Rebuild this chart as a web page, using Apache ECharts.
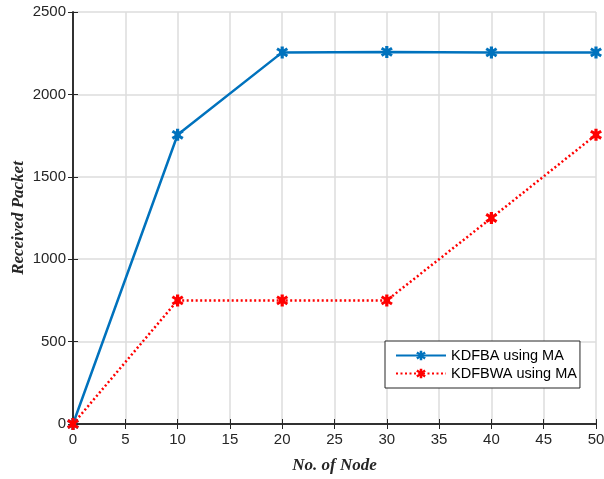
<!DOCTYPE html>
<html><head><meta charset="utf-8">
<script src="https://cdn.jsdelivr.net/npm/echarts@6/dist/echarts.min.js"></script>
<style>html,body{margin:0;padding:0;background:#fff}#c{width:604px;height:479px}</style>
</head><body><div id="c"></div>
<script>
const nodes = [0, 10, 20, 30, 40, 50];
const kdfba = [0, 1755, 2255, 2258, 2255, 2255];
const kdfbwa = [0, 750, 750, 750, 1250, 1755];
const seriesNames = ['KDFBA using MA', 'KDFBWA using MA'];
const xName = 'No. of Node';
const yName = 'Received Packet';

const axisColor = '#262626';
const star = 'path://M-1.6,-6L1.6,-6L1.6,-3.2L4.4,-4.9L6,-2.3L3.2,-0.8L3.2,0.8L6,2.3L4.4,4.9L1.6,3.2L1.6,6L-1.6,6L-1.6,3.2L-4.4,4.9L-6,2.3L-3.2,0.8L-3.2,-0.8L-6,-2.3L-4.4,-4.9L-1.6,-3.2Z';
const chart = echarts.init(document.getElementById('c'), null, {renderer: 'canvas'});
const baseLabel = {color: axisColor, fontFamily: 'Liberation Sans, Arial', fontSize: 15, formatter: v => String(v)};
chart.setOption({
  animation: false,
  backgroundColor: '#fff',
  grid: {left: 73, right: 8, top: 12, bottom: 55, containLabel: false, outerBoundsMode: 'none'},
  legend: {
    orient: 'vertical', left: 385, top: 341,
    backgroundColor: '#fff',
    borderColor: axisColor, borderWidth: 1,
    padding: [7, 3, 7, 10], itemGap: 3,
    itemWidth: 50, itemHeight: 12,
    textStyle: {color: '#000', fontFamily: 'Liberation Sans, Arial', fontSize: 14.5},
    data: seriesNames
  },
  xAxis: [{
    type: 'value', min: 0, max: 50, interval: 5,
    name: xName, nameLocation: 'middle', nameGap: 33, nameMoveOverlap: false,
    nameTextStyle: {fontFamily: 'Liberation Serif, Times New Roman', fontStyle: 'italic', fontWeight: 'bold', fontSize: 17, color: axisColor},
    axisLine: {lineStyle: {color: axisColor, width: 1.5}},
    axisTick: {inside: true, length: 5, lineStyle: {color: axisColor}},
    axisLabel: Object.assign({margin: 8}, baseLabel),
    splitLine: {show: true, lineStyle: {color: '#dcdcdc', width: 1.5}}
  }, {
    type: 'value', min: 0, max: 50, interval: 5, position: 'top',
    axisLine: {show: true, lineStyle: {color: axisColor, width: 1.5}},
    axisTick: {show: true, inside: true, length: 5, lineStyle: {color: axisColor}},
    axisLabel: {show: false}, splitLine: {show: false}
  }],
  yAxis: [{
    type: 'value', min: 0, max: 2500, interval: 500,
    name: yName, nameLocation: 'middle', nameGap: 46, nameMoveOverlap: false,
    nameTextStyle: {fontFamily: 'Liberation Serif, Times New Roman', fontStyle: 'italic', fontWeight: 'bold', fontSize: 17, color: axisColor},
    axisLine: {show: true, lineStyle: {color: axisColor, width: 1.5}},
    axisTick: {show: true, inside: true, length: 5, lineStyle: {color: axisColor}},
    axisLabel: Object.assign({margin: 7}, baseLabel),
    splitLine: {show: true, lineStyle: {color: '#dcdcdc', width: 1.5}}
  }, {
    type: 'value', min: 0, max: 2500, interval: 500, position: 'right',
    axisLine: {show: true, lineStyle: {color: axisColor, width: 1.5}},
    axisTick: {show: true, inside: true, length: 5, lineStyle: {color: axisColor}},
    axisLabel: {show: false}, splitLine: {show: false}
  }],
  series: [{
    name: seriesNames[0], type: 'line',
    data: nodes.map((x, i) => [x, kdfba[i]]),
    symbol: star, symbolSize: 12,
    itemStyle: {color: '#0072BD'},
    lineStyle: {color: '#0072BD', width: 2.5}
  }, {
    name: seriesNames[1], type: 'line',
    data: nodes.map((x, i) => [x, kdfbwa[i]]),
    symbol: star, symbolSize: 12,
    itemStyle: {color: '#FF0000'},
    lineStyle: {color: '#FF0000', width: 2.5, type: [2, 2.5]}
  }]
});
</script></body></html>
